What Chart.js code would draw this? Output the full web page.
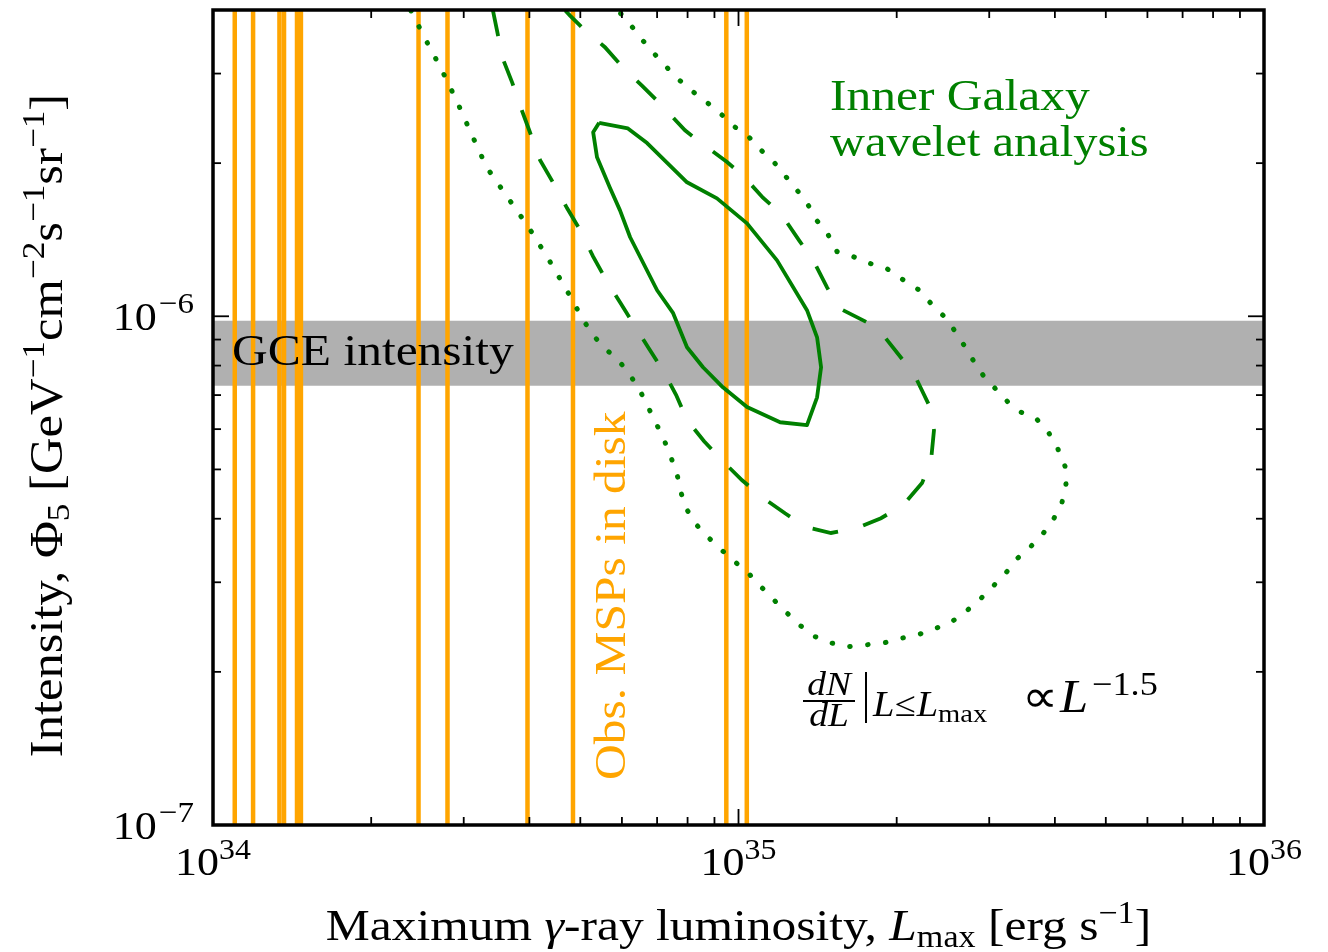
<!DOCTYPE html>
<html><head><meta charset="utf-8">
<script src="https://cdn.jsdelivr.net/npm/chart.js@4.4.1/dist/chart.umd.min.js"></script>
<style>html,body{margin:0;padding:0;background:#fff;}canvas{display:block;}</style>
</head><body>
<canvas id="c" width="1328" height="952"></canvas>
<script>
// ---- axis ranges & ticks ----
const xMin = 1e34, xMax = 1e36;
const yMin = 1e-7, yMax = 4e-6;
const xMajorTicks = [1e34, 1e35, 1e36];
const xTickExps = ['34', '35', '36'];
const xMinorTicks = [2e34,3e34,4e34,5e34,6e34,7e34,8e34,9e34,2e35,3e35,4e35,5e35,6e35,7e35,8e35,9e35];
const yMajorTicks = [1e-7, 1e-6];
const yTickExps = ['\u22127', '\u22126'];
const yMinorTicks = [2e-7,3e-7,4e-7,5e-7,6e-7,7e-7,8e-7,9e-7,2e-6,3e-6];

// ---- GCE intensity band ----
const bandLow = 7.3e-7, bandHigh = 9.8e-7;

// ---- observed MSPs in disk (luminosities) ----
const mspL = [1.100e34, 1.192e34, 1.338e34, 1.365e34, 1.445e34, 1.470e34, 2.461e34, 2.794e34, 3.967e34, 4.842e34, 9.48e34, 1.037e35];

// ---- Inner Galaxy wavelet analysis contours ----
const solidX = [5.43e34, 6.16e34, 6.70e34, 7.98e34, 9.10e34, 1.038e35, 1.184e35, 1.350e35, 1.411e35, 1.436e35, 1.411e35, 1.350e35, 1.200e35, 1.038e35, 9.34e34, 8.56e34, 7.98e34, 7.51e34, 7.00e34, 6.22e34, 5.95e34, 5.69e34, 5.38e34, 5.29e34, 5.43e34];
const solidY = [2.40e-6, 2.34e-6, 2.19e-6, 1.834e-6, 1.705e-6, 1.523e-6, 1.288e-6, 1.028e-6, 9.09e-7, 7.94e-7, 6.93e-7, 6.11e-7, 6.19e-7, 6.63e-7, 7.25e-7, 7.94e-7, 8.69e-7, 1.014e-6, 1.125e-6, 1.430e-6, 1.615e-6, 1.792e-6, 2.053e-6, 2.299e-6, 2.40e-6];

const dashedX = [3.41e34, 3.47e34, 3.56e34, 3.71e34, 3.87e34, 4.01e34, 4.19e34, 4.44e34, 4.72e34, 4.99e34, 5.29e34, 5.57e34, 5.95e34, 6.30e34, 6.73e34, 7.18e34, 7.61e34, 7.98e34, 8.60e34, 9.30e34, 1.016e35, 1.108e35, 1.226e35, 1.345e35, 1.500e35, 1.673e35, 1.867e35, 2.056e35, 2.235e35, 2.325e35, 2.355e35, 2.314e35, 2.186e35, 2.056e35, 1.900e35, 1.756e35, 1.547e35, 1.474e35, 1.386e35, 1.304e35, 1.205e35, 1.113e35, 1.020e35, 9.51e34, 8.45e34, 7.91e34, 7.09e34, 6.55e34, 6.03e34, 5.57e34, 5.06e34, 4.78e34, 4.68e34];
const dashedY = [3.99e-6, 3.65e-6, 3.21e-6, 2.88e-6, 2.54e-6, 2.30e-6, 2.03e-6, 1.83e-6, 1.63e-6, 1.48e-6, 1.31e-6, 1.19e-6, 1.065e-6, 9.69e-7, 8.69e-7, 7.83e-7, 7.00e-7, 6.25e-7, 5.68e-7, 5.21e-7, 4.76e-7, 4.41e-7, 4.10e-7, 3.85e-7, 3.75e-7, 3.83e-7, 4.01e-7, 4.25e-7, 4.70e-7, 5.21e-7, 5.97e-7, 6.63e-7, 7.49e-7, 8.20e-7, 9.09e-7, 9.73e-7, 1.04e-6, 1.14e-6, 1.29e-6, 1.41e-6, 1.59e-6, 1.71e-6, 1.89e-6, 2.01e-6, 2.20e-6, 2.32e-6, 2.62e-6, 2.84e-6, 3.08e-6, 3.38e-6, 3.68e-6, 3.90e-6, 3.99e-6];

const dottedX = [2.38e34, 2.52e34, 2.72e34, 2.91e34, 3.11e34, 3.32e34, 3.64e34, 3.98e34, 4.34e34, 4.70e34, 5.08e34, 5.33e34, 5.62e34, 5.95e34, 6.22e34, 6.49e34, 6.73e34, 6.97e34, 7.22e34, 7.44e34, 7.64e34, 7.77e34, 7.94e34, 8.30e34, 8.75e34, 9.26e34, 9.85e34, 1.043e35, 1.104e35, 1.168e35, 1.237e35, 1.309e35, 1.392e35, 1.500e35, 1.609e35, 1.748e35, 1.892e35, 2.047e35, 2.206e35, 2.386e35, 2.560e35, 2.722e35, 2.894e35, 3.064e35, 3.228e35, 3.402e35, 3.602e35, 3.813e35, 3.985e35, 4.127e35, 4.200e35, 4.182e35, 4.055e35, 3.898e35, 3.698e35, 3.448e35, 3.257e35, 3.077e35, 2.920e35, 2.795e35, 2.687e35, 2.560e35, 2.461e35, 2.314e35, 2.196e35, 2.056e35, 1.917e35, 1.779e35, 1.652e35, 1.540e35, 1.474e35, 1.411e35, 1.350e35, 1.292e35, 1.226e35, 1.163e35, 1.099e35, 1.043e35, 9.76e34, 9.22e34, 8.64e34, 8.09e34, 7.64e34, 7.25e34, 6.88e34, 6.52e34, 6.22e34, 5.90e34];
const dottedY = [3.99e-6, 3.55e-6, 3.06e-6, 2.65e-6, 2.27e-6, 1.96e-6, 1.71e-6, 1.50e-6, 1.30e-6, 1.13e-6, 9.78e-7, 9.09e-7, 8.58e-7, 8.12e-7, 7.66e-7, 7.15e-7, 6.63e-7, 6.16e-7, 5.71e-7, 5.28e-7, 4.89e-7, 4.51e-7, 4.20e-7, 3.90e-7, 3.68e-7, 3.48e-7, 3.29e-7, 3.13e-7, 2.94e-7, 2.77e-7, 2.61e-7, 2.47e-7, 2.35e-7, 2.28e-7, 2.24e-7, 2.26e-7, 2.28e-7, 2.33e-7, 2.37e-7, 2.44e-7, 2.52e-7, 2.64e-7, 2.79e-7, 2.96e-7, 3.13e-7, 3.35e-7, 3.53e-7, 3.76e-7, 4.01e-7, 4.31e-7, 4.68e-7, 5.07e-7, 5.48e-7, 5.89e-7, 6.27e-7, 6.48e-7, 6.78e-7, 7.22e-7, 7.66e-7, 8.20e-7, 8.77e-7, 9.47e-7, 1.00e-6, 1.065e-6, 1.13e-6, 1.18e-6, 1.24e-6, 1.27e-6, 1.31e-6, 1.34e-6, 1.46e-6, 1.54e-6, 1.67e-6, 1.77e-6, 1.89e-6, 2.02e-6, 2.13e-6, 2.26e-6, 2.37e-6, 2.51e-6, 2.65e-6, 2.79e-6, 2.94e-6, 3.11e-6, 3.30e-6, 3.52e-6, 3.75e-6, 3.99e-6];

// ---- styles ----
const GREEN = '#008000', ORANGE = '#ffa500', GRAY = '#b0b0b0';
const FONT = '"Liberation Serif","Times New Roman",serif';
const SX = 1.1;

function pts(xs, ys) { return xs.map((x, i) => ({ x: x, y: ys[i] })); }
function fnt(s, it) { return (it ? 'italic ' : '') + s + 'px ' + FONT; }
function segW(ctx, segs) {
  let w = 0;
  for (const g of segs) { ctx.font = fnt(g.s, g.i); w += ctx.measureText(g.t).width + (g.gap || 0); }
  return w;
}
function drawRich(ctx, x, y, segs, align, rot, color) {
  ctx.save();
  ctx.translate(x, y);
  if (rot) ctx.rotate(rot);
  ctx.scale(SX, 1);
  const w = segW(ctx, segs);
  let cx = align === 'center' ? -w / 2 : (align === 'right' ? -w : 0);
  ctx.fillStyle = color || '#000';
  ctx.textBaseline = 'alphabetic';
  ctx.textAlign = 'left';
  for (const g of segs) {
    ctx.font = fnt(g.s, g.i);
    ctx.fillText(g.t, cx, g.dy || 0);
    cx += ctx.measureText(g.t).width + (g.gap || 0);
  }
  ctx.restore();
  return w * SX;
}
function line(ctx, x1, y1, x2, y2) { ctx.beginPath(); ctx.moveTo(x1, y1); ctx.lineTo(x2, y2); ctx.stroke(); }

const decor = {
  id: 'decor',
  afterDatasetsDraw(chart) {
    const ctx = chart.ctx, xs = chart.scales.x, ys = chart.scales.y, a = chart.chartArea;
    // in-plot texts
    drawRich(ctx, 232, 365, [{ t: 'GCE intensity', s: 45 }], 'left');
    drawRich(ctx, 830, 110, [{ t: 'Inner Galaxy', s: 45 }], 'left', 0, GREEN);
    drawRich(ctx, 830, 156, [{ t: 'wavelet analysis', s: 44 }], 'left', 0, GREEN);
    drawRich(ctx, 625, 780, [{ t: 'Obs. MSPs in disk', s: 45 }], 'left', -Math.PI / 2, ORANGE);

    // power-law formula
    ctx.save();
    ctx.strokeStyle = '#000'; ctx.lineWidth = 2;
    drawRich(ctx, 829, 695, [{ t: 'dN', s: 34, i: true }], 'center');
    drawRich(ctx, 829, 726, [{ t: 'dL', s: 34, i: true }], 'center');
    line(ctx, 803, 701, 855, 701);
    line(ctx, 866, 672, 866, 723);
    let px = 873;
    px += drawRich(ctx, px, 716, [{ t: 'L', s: 35, i: true }, { t: '\u2264', s: 35, gap: 1 }, { t: 'L', s: 35, i: true }], 'left');
    drawRich(ctx, px, 722, [{ t: 'max', s: 26 }], 'left');
    drawRich(ctx, 1022, 712, [{ t: '\u221D', s: 46 }], 'left');
    drawRich(ctx, 1060, 712, [{ t: 'L', s: 46, i: true }], 'left');
    drawRich(ctx, 1092, 695, [{ t: '\u22121.5', s: 33 }], 'left');
    ctx.restore();

    // frame
    ctx.save();
    ctx.strokeStyle = '#000';
    ctx.lineWidth = 3.5;
    ctx.strokeRect(a.left, a.top, a.right - a.left, a.bottom - a.top);
    ctx.lineWidth = 1.8;
    const MJ = 16, MN = 8;
    xMajorTicks.forEach(v => { const p = xs.getPixelForValue(v); line(ctx, p, a.bottom, p, a.bottom - MJ); line(ctx, p, a.top, p, a.top + MJ); });
    xMinorTicks.forEach(v => { const p = xs.getPixelForValue(v); line(ctx, p, a.bottom, p, a.bottom - MN); line(ctx, p, a.top, p, a.top + MN); });
    yMajorTicks.forEach(v => { const p = ys.getPixelForValue(v); line(ctx, a.left, p, a.left + MJ, p); line(ctx, a.right, p, a.right - MJ, p); });
    yMinorTicks.forEach(v => { const p = ys.getPixelForValue(v); line(ctx, a.left, p, a.left + MN, p); line(ctx, a.right, p, a.right - MN, p); });
    ctx.restore();

    // tick labels
    xMajorTicks.forEach((v, i) => {
      const p = xs.getPixelForValue(v);
      drawRich(ctx, p, 875, [{ t: '10', s: 40 }, { t: xTickExps[i], s: 29, dy: -16 }], 'center');
    });
    yMajorTicks.forEach((v, i) => {
      const p = ys.getPixelForValue(v);
      drawRich(ctx, 194, p + 14, [{ t: '10', s: 40, gap: 2 }, { t: yTickExps[i], s: 30, dy: -17 }], 'right');
    });

    // axis titles
    drawRich(ctx, (a.left + a.right) / 2, 940, [
      { t: 'Maximum ', s: 45 }, { t: '\u03B3', s: 45, i: true }, { t: '-ray luminosity, ', s: 45 },
      { t: 'L', s: 45, i: true }, { t: 'max', s: 31, dy: 7 }, { t: ' [erg s', s: 45 },
      { t: '\u22121', s: 31, dy: -17 }, { t: ']', s: 45 }
    ], 'center');
    drawRich(ctx, 62, (a.top + a.bottom) / 2 + 8, [
      { t: 'Intensity, ', s: 46 }, { t: '\u03A6', s: 46 }, { t: '5', s: 32, dy: 7 }, { t: ' [GeV', s: 46 },
      { t: '\u22121', s: 32, dy: -18 }, { t: 'cm', s: 46 }, { t: '\u22122', s: 32, dy: -18 },
      { t: 's', s: 46 }, { t: '\u22121', s: 32, dy: -18 }, { t: 'sr', s: 46 }, { t: '\u22121', s: 32, dy: -18 },
      { t: ']', s: 46 }
    ], 'center', -Math.PI / 2);
  }
};

const datasets = [
  { label: 'solid', data: pts(solidX, solidY), showLine: true, borderColor: GREEN, borderWidth: 3.8, pointRadius: 0, borderJoinStyle: 'round', fill: false, order: 1 },
  { label: 'dashed', data: pts(dashedX, dashedY), showLine: true, borderColor: GREEN, borderWidth: 3.8, borderDash: [26, 26], pointRadius: 0, fill: false, order: 1 },
  { label: 'dotted', data: pts(dottedX, dottedY), showLine: true, borderColor: GREEN, borderWidth: 5, borderDash: [0.5, 17.5], borderCapStyle: 'round', pointRadius: 0, fill: false, order: 1 }
];
mspL.forEach(v => datasets.push({
  label: 'MSP', data: [{ x: v, y: yMin }, { x: v, y: yMax }], showLine: true,
  borderColor: ORANGE, borderWidth: 4.5, pointRadius: 0, fill: false, order: 2
}));
datasets.push({
  label: 'GCE band', data: [{ x: xMin, y: bandHigh }, { x: xMax, y: bandHigh }], showLine: true,
  borderColor: 'rgba(0,0,0,0)', borderWidth: 0, pointRadius: 0, fill: { value: bandLow }, backgroundColor: GRAY, order: 3
});

new Chart(document.getElementById('c'), {
  type: 'scatter',
  data: { datasets: datasets },
  options: {
    responsive: false,
    animation: false,
    devicePixelRatio: 1,
    layout: { padding: { left: 213, right: 64, top: 10, bottom: 127 } },
    plugins: { legend: { display: false }, tooltip: { enabled: false } },
    scales: {
      x: { type: 'logarithmic', min: xMin, max: xMax, display: false },
      y: { type: 'logarithmic', min: yMin, max: yMax, display: false }
    }
  },
  plugins: [decor]
});
</script>
</body></html>
